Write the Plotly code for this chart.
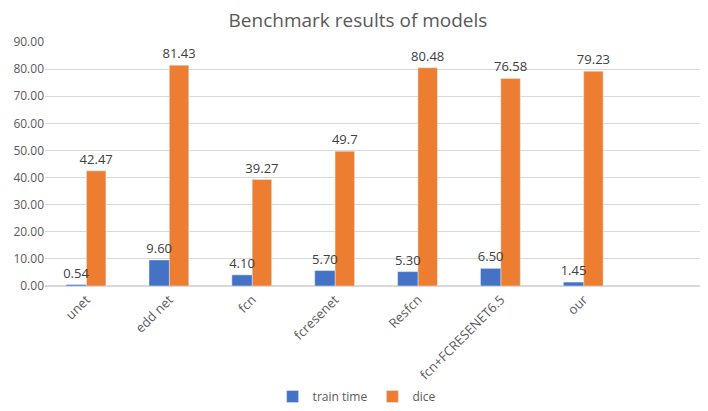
import plotly.graph_objects as go

# benchmark values
models = ['unet', 'edd net', 'fcn', 'fcresenet', 'Resfcn', 'fcn+FCRESENET6.5', 'our']
train_time = [0.54, 9.60, 4.10, 5.70, 5.30, 6.50, 1.45]
dice = [42.47, 81.43, 39.27, 49.7, 80.48, 76.58, 79.23]
train_labels = ['0.54', '9.60', '4.10', '5.70', '5.30', '6.50', '1.45']
dice_labels = ['42.47', '81.43', '39.27', '49.7', '80.48', '76.58', '79.23']

font_name = 'Open Sans'
lbl_font = dict(size=13, color='#404040')

fig = go.Figure()
# orange first so the blue labels sit on top
fig.add_trace(go.Bar(x=models, y=dice, name='dice', marker_color='#ED7D31',
                     offset=0.0, width=0.235,
                     text=dice_labels, textposition='outside', cliponaxis=False,
                     textfont=lbl_font, legendrank=2))
fig.add_trace(go.Bar(x=models, y=train_time, name='train time', marker_color='#4472C4',
                     offset=-0.245, width=0.245,
                     text=train_labels, textposition='outside', cliponaxis=False,
                     textfont=lbl_font, legendrank=1))

# page body has an 8px margin, so the figure is a bit smaller than the window
fig.update_layout(
    width=700, height=403,
    margin=dict(l=37, r=0, t=34, b=125, autoexpand=False),
    paper_bgcolor='white', plot_bgcolor='white',
    font=dict(family=font_name, color='#595959', size=12),
    title=dict(text='Benchmark results of models', x=0.5, xanchor='center',
               y=0.985, yanchor='top', font=dict(size=19, color='#595959')),
    barmode='overlay',
    uniformtext=dict(minsize=13, mode='show'),
    legend=dict(orientation='h', x=0.47, xanchor='center', yref='container', y=-0.01,
                yanchor='bottom', itemwidth=30,
                font=dict(size=12, color='#595959')),
)
fig.update_xaxes(range=[-0.5, 7.5], tickangle=-45, showline=True, linecolor='#D9D9D9',
                 ticks='', automargin=False, tickfont=dict(size=13, color='#595959'))
fig.update_yaxes(range=[0, 90], dtick=10, tickformat='.2f', gridcolor='#D9D9D9',
                 zeroline=True, zerolinecolor='#D9D9D9', showline=False, automargin=False,
                 tickfont=dict(size=12, color='#595959'))

fig.write_html("out.html")
